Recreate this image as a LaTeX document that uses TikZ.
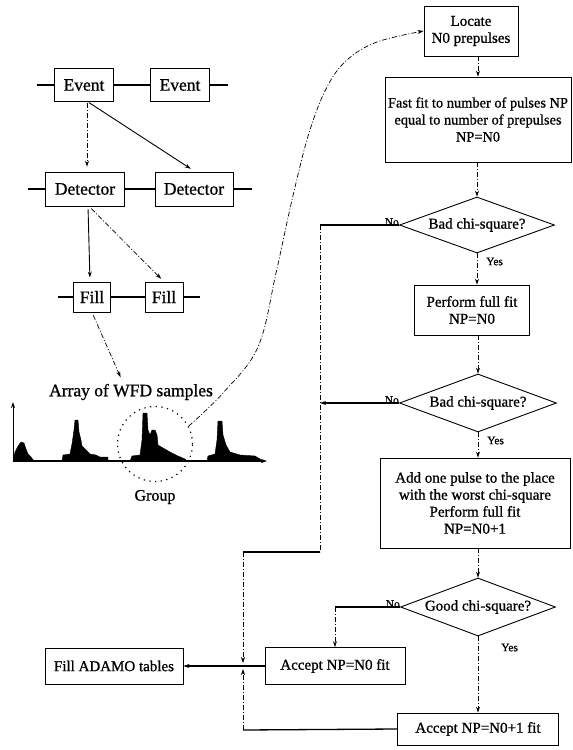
\documentclass[tikz,border=0pt]{standalone}
\usepackage{fontspec}
\setmainfont{Liberation Serif}[FakeBold=0.9]
\usetikzlibrary{shapes.geometric,arrows.meta}
\newcommand{\myRfont}{\fontsize{15}{17}\selectfont}
\newcommand{\myFfont}{\fontsize{14.4}{17}\selectfont}
\newcommand{\myLfont}{\fontsize{17.5}{20}\selectfont}
\newcommand{\myTfont}{\fontsize{11.5}{12}\selectfont}
\tikzset{
  box/.style={draw, line width=0.9pt, inner sep=2pt, align=center, font=\myRfont},
  lbox/.style={draw, line width=0.9pt, inner sep=1pt, font=\myLfont},
  dia/.style={draw, diamond, aspect=2.7, inner sep=0pt, line width=0.9pt, font=\myRfont},
  arr/.style={-{Stealth[length=6pt,width=4pt]}},
  dd/.style={line width=0.7pt, dash pattern=on 5pt off 2pt on 1pt off 2pt},
  sl/.style={line width=1.3pt},
  lbl/.style={font=\myTfont, inner sep=1pt},
  wave/.style={fill=black, draw=black, line width=0.4pt}
}
\begin{document}
\begin{tikzpicture}[x=1pt,y=-1pt]
\useasboundingbox (0,0) rectangle (573,750);

% ---------- left: data structure ----------
\node[lbox, minimum width=59pt, minimum height=33pt] (e1) at (84,85) {Event};
\node[lbox, minimum width=59pt, minimum height=33pt] (e2) at (180,85) {Event};
\coordinate (es1) at (37,85);
\coordinate (es2) at (228,85);
\draw[sl] (es1) -- (e1.west);
\draw[sl] (e1.east) -- (e2.west);
\draw[sl] (e2.east) -- (es2);

\node[lbox, minimum width=79pt, minimum height=34pt] (dt1) at (85,189) {Detector};
\node[lbox, minimum width=78pt, minimum height=34pt] (dt2) at (194,189) {Detector};
\coordinate (ds1) at (28,189);
\coordinate (ds2) at (252,189);
\draw[sl] (ds1) -- (dt1.west);
\draw[sl] (dt1.east) -- (dt2.west);
\draw[sl] (dt2.east) -- (ds2);

\node[lbox, minimum width=37pt, minimum height=30pt] (f1) at (92,297) {Fill};
\node[lbox, minimum width=38pt, minimum height=30pt] (f2) at (164,297) {Fill};
\coordinate (fs1) at (58,297);
\coordinate (fs2) at (200,297);
\draw[sl] (fs1) -- (f1.west);
\draw[sl] (f1.east) -- (f2.west);
\draw[sl] (f2.east) -- (fs2);

\draw[dd, arr, shorten <=1pt, shorten >=5pt] ([xshift=3pt]e1.south) -- ([xshift=2pt]dt1.north);
\draw[line width=0.9pt, arr, shorten <=1pt, shorten >=5pt] ([xshift=4pt]e1.south) -- ([xshift=1pt]dt2.north);
\draw[line width=0.9pt, arr, shorten <=3pt, shorten >=4pt] ([xshift=3pt]dt1.south) -- ([xshift=-2pt]f1.north);
\draw[dd, arr, shorten <=3pt, shorten >=4pt] ([xshift=4pt]dt1.south) -- (f2.north);

\node[font=\myLfont, inner sep=1pt] (arrt) at (131,392) {Array of WFD samples};
\draw[dd, arr, shorten <=3pt, shorten >=6pt] (f1.south) -- ([xshift=-8pt]arrt.north);

% waveform
\coordinate (ax0) at (13,461);
\coordinate (axx) at (267,461);
\coordinate (axy) at (13,402);
\fill[wave] (13,461) -- (15,452) -- (18,446) -- (21,442) -- (24,443) -- (26,449) -- (28,454) -- (31,457) -- (34,461) -- cycle;
\fill[wave] (62,461) -- (63,455) -- (70,454) -- (72,444) -- (74,430) -- (75,420) -- (78,420) -- (79,432) -- (81,440) -- (82,446) -- (86,450) -- (90,454) -- (96,455) -- (100,457) -- (108,457) -- (108,461) -- cycle;
\fill[wave] (130,461) -- (132,456) -- (140,455) -- (142,440) -- (143,413) -- (147,413) -- (148,430) -- (150,435) -- (152,430) -- (155,430) -- (157,435) -- (158,445) -- (163,448) -- (170,452) -- (178,456) -- (185,459) -- (187,461) -- cycle;
\fill[wave] (207,461) -- (208,456) -- (215,454) -- (217,440) -- (218,421) -- (222,421) -- (223,435) -- (226,445) -- (230,452) -- (240,455) -- (255,456) -- (260,459) -- (262,461) -- cycle;
\draw[line width=1.8pt, arr] (ax0) -- (axx);
\draw[line width=0.8pt, arr] (ax0) -- (axy);

\node[circle, draw, minimum size=75pt, line width=1.2pt, dash pattern=on 1.2pt off 4.5pt] (grp) at (155,444) {};
\node[font=\fontsize{16}{18}\selectfont, inner sep=1pt] (grpt) at (155,497) {Group};

% ---------- right: flow chart ----------
\node[box, minimum width=94pt, minimum height=50pt] (loc) at (471,31) {Locate\\N0 prepulses};
\node[box, font=\myFfont, minimum width=186pt, minimum height=85pt] (ff) at (478,119.5)
  {Fast fit to number of pulses NP\\equal to number of prepulses\\NP=N0};
\node[dia, minimum width=155pt, minimum height=56pt] (d1) at (477,225) {Bad chi-square?};
\node[box, minimum width=115pt, minimum height=50pt] (pf) at (472,310) {Perform full fit\\NP=N0};
\node[dia, minimum width=157pt, minimum height=58pt] (d2) at (478,403) {Bad chi-square?};
\node[box, minimum width=190pt, minimum height=90pt] (add) at (475,503)
  {Add one pulse to the place\\with the worst chi-square\\Perform full fit\\NP=N0+1};
\node[dia, minimum width=155pt, minimum height=58pt] (d3) at (478,607) {Good chi-square?};
\node[box, minimum width=140pt, minimum height=37pt] (acc0) at (335,666) {Accept NP=N0 fit};
\node[box, minimum width=161pt, minimum height=32pt] (acc1) at (478,729) {Accept NP=N0+1 fit};
\node[box, minimum width=138pt, minimum height=36pt] (fa) at (114,666) {Fill ADAMO tables};

\draw[dd, arr] plot[smooth, tension=0.6] coordinates {(grp.28) (223,393) (258,347) (276,273) (292,200) (309,133) (327,87) (347,60) (377,42) (loc.west)};

\draw[dd, arr] (loc.south -| ff.north) -- (ff.north);
\draw[dd, arr] (ff.south -| d1.north) -- (d1.north);
\draw[dd, arr] (d1.south) -- (d1.south |- pf.north);
\draw[dd, arr] (pf.south -| d2.north) -- (d2.north);
\draw[dd, arr] (d2.south) -- (d2.south |- add.north);
\draw[dd, arr] (add.south -| d3.north) -- (d3.north);
\draw[dd, arr] (d3.south) -- (d3.south |- acc1.north);

\node[lbl, anchor=south east] at ([xshift=1pt,yshift=-2pt]d1.west) {No};
\node[lbl, anchor=north west] at ([xshift=8pt,yshift=-3pt]d1.south) {Yes};
\node[lbl, anchor=south east] at ([xshift=1pt,yshift=-2pt]d2.west) {No};
\node[lbl, anchor=north west] at ([xshift=8pt,yshift=-3pt]d2.south) {Yes};
\node[lbl, anchor=south east] at ([xshift=1pt,yshift=-2pt]d3.west) {No};
\node[lbl, anchor=north west] at ([xshift=22pt,yshift=-6pt]d3.south) {Yes};

\coordinate (c1) at (320,225);
\coordinate (c2) at (320,552);
\coordinate (c4) at (243,552);
\coordinate (j) at (243,666);
\coordinate (c5) at (243,730);
\coordinate (c3) at (335,607);

\draw[sl] (d1.west) -- (c1);
\draw[dd] (c1) -- (c2);
\draw[sl] (c2) -- (c4);
\draw[dd, arr, shorten >=3pt] (c4) -- (j);
\draw[sl, arr] (d2.west) -- (d2.west -| c1);
\draw[sl] (d3.west) -- (c3);
\draw[dd, arr] (c3) -- (c3 |- acc0.north);
\draw[sl] (acc1.west) -- (c5);
\draw[dd, arr, shorten >=3pt] (c5) -- (j);
\draw[sl, arr] (acc0.west) -- (fa.east);
\end{tikzpicture}
\end{document}
